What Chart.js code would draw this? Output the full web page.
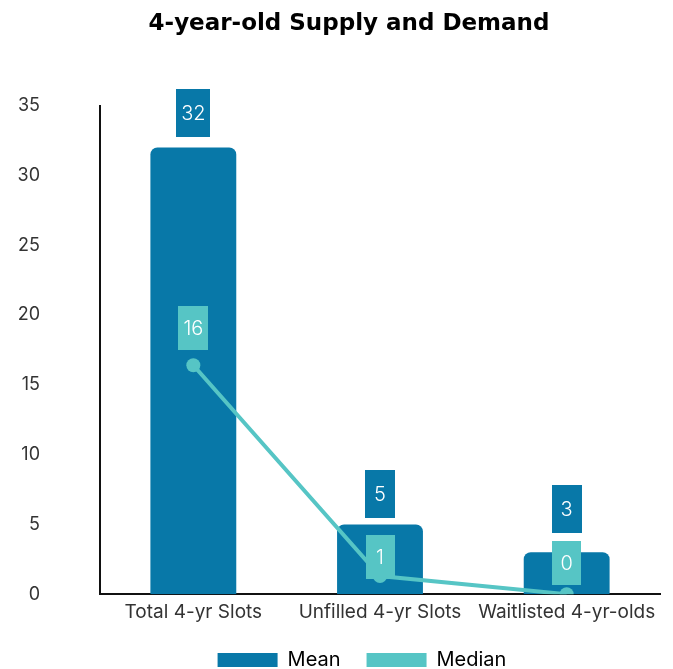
<!DOCTYPE html>
<html>
<head>
<meta charset="utf-8">
<script src="https://cdn.jsdelivr.net/npm/chart.js@4/dist/chart.umd.min.js"></script>
<style>
  html, body { margin: 0; padding: 0; background: #ffffff; }
  #wrap { width: 673px; height: 669px; }
</style>
</head>
<body>
<div id="wrap"><canvas id="c" width="673" height="669"></canvas></div>
<script>
const categories = ['Total 4-yr Slots', 'Unfilled 4-yr Slots', 'Waitlisted 4-yr-olds'];
const meanValues = [32, 5, 3];
const medianValues = [16.4, 1.3, 0];
const yTicks = [0, 5, 10, 15, 20, 25, 30, 35];

const DARK = '#0878a8';
const TEAL = '#56c5c5';
const FONT = 'Inter, "Open Sans", sans-serif';
const TITLE_FONT = '"DejaVu Sans", Inter, sans-serif';

// label box gaps (px) between the mark and the bottom of its label box
const meanGap = [10, 6, 19];
const medianGap = [15, -3, 9];

const labelPlugin = {
  id: 'boxLabels',
  afterLayout(chart) {
    // nudge title and legend as in the reference
    if (chart.titleBlock) { chart.titleBlock.left += 14; chart.titleBlock.right += 14; }
    if (chart.legend) {
      chart.legend.left += 54;
      chart.legend.top -= 7; chart.legend.bottom -= 7;
    }
  },
  afterDatasetsDraw(chart) {
    const ctx = chart.ctx;
    ctx.save();
    ctx.font = '300 20px ' + FONT;
    ctx.textAlign = 'center';
    ctx.textBaseline = 'middle';
    chart.data.datasets.forEach((ds, di) => {
      const meta = chart.getDatasetMeta(di);
      meta.data.forEach((el, i) => {
        const txt = String(Math.round(ds.data[i]));
        const isBar = ds.type === 'bar';
        const gap = isBar ? meanGap[i] : medianGap[i];
        const h = isBar ? 48 : 44;
        const tw = ctx.measureText(txt).width;
        const w = Math.max(isBar ? 30 : 29, tw + 10);
        const x = el.x;
        const bottom = el.y - gap;
        ctx.fillStyle = isBar ? DARK : TEAL;
        ctx.fillRect(Math.round(x - w / 2), Math.round(bottom - h), Math.round(w), h);
        ctx.fillStyle = '#ffffff';
        ctx.fillText(txt, x, bottom - h / 2 + 1);
      });
    });
    ctx.restore();
  }
};

new Chart(document.getElementById('c'), {
  data: {
    labels: categories,
    datasets: [
      {
        type: 'bar',
        label: 'Mean',
        data: meanValues,
        backgroundColor: DARK,
        borderRadius: { topLeft: 7, topRight: 7 },
        borderSkipped: 'bottom',
        categoryPercentage: 1,
        barPercentage: 0.46,
        order: 2
      },
      {
        type: 'line',
        label: 'Median',
        data: medianValues,
        borderColor: TEAL,
        backgroundColor: TEAL,
        borderWidth: 4,
        pointRadius: 7,
        pointBackgroundColor: TEAL,
        pointBorderWidth: 0,
        tension: 0,
        order: 1
      }
    ]
  },
  options: {
    responsive: false,
    animation: false,
    layout: { padding: { left: 10, right: 13, top: 0, bottom: -18 } },
    scales: {
      x: {
        grid: { display: false, drawTicks: false },
        border: { display: true, color: '#111', width: 2 },
        ticks: { color: '#333', font: { family: FONT, size: 19 }, padding: 7 }
      },
      y: {
        min: 0,
        max: 35,
        afterBuildTicks(scale) { scale.ticks = yTicks.map(v => ({ value: v })); },
        afterFit(scale) { scale.width = 90; },
        grid: { display: false, drawTicks: false },
        border: { display: true, color: '#111', width: 2 },
        ticks: { color: '#333', font: { family: FONT, size: 18 }, padding: 60 }
      }
    },
    plugins: {
      title: {
        display: true,
        text: '4-year-old Supply and Demand',
        color: '#000',
        font: { family: TITLE_FONT, size: 23, weight: 'bold' },
        padding: { top: 10, bottom: 68 }
      },
      legend: {
        position: 'bottom',
        labels: {
          color: '#333',
          font: { family: FONT, size: 20 },
          boxWidth: 60,
          boxHeight: 14,
          padding: 26,
          generateLabels(chart) {
            return chart.data.datasets.map((ds, i) => ({
              text: ds.label,
              fillStyle: ds.type === 'bar' ? DARK : TEAL,
              strokeStyle: 'rgba(0,0,0,0)',
              lineWidth: 0,
              datasetIndex: i,
              hidden: false
            }));
          }
        }
      },
      tooltip: { enabled: false }
    }
  },
  plugins: [labelPlugin]
});
</script>
</body>
</html>
